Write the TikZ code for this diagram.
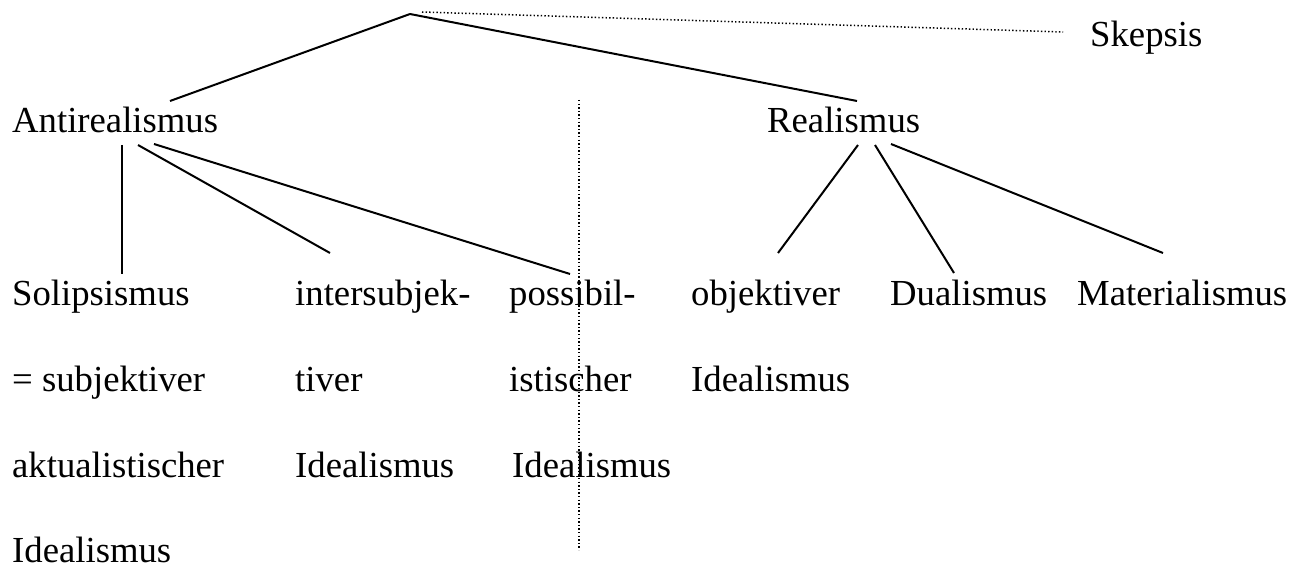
\documentclass[tikz,border=0pt]{standalone}
\usepackage{fontspec}
\setmainfont{Liberation Serif}
\usetikzlibrary{calc}
\begin{document}
\begin{tikzpicture}[x=1pt,y=-1pt,
  term/.style={anchor=base west,inner sep=0pt,font=\fontsize{36.7}{44}\selectfont},
  branch/.style={line width=2pt},
  guide/.style={line width=1.5pt,dash pattern=on 1.4pt off 2.2pt}]
\useasboundingbox (0,0) rectangle (1305,569);

% top level
\coordinate (apex) at (410,14);
\node[term] (skepsis) at (1090,47) {Skepsis};
\node[term] (anti) at (12,133) {Antirealismus};
\node[term] (real) at (767,133) {Realismus};

% antirealist positions
\node[term] (sol)   at (12,305) {Solipsismus};
\node[term] (sol2)  at (12,391) {= subjektiver};
\node[term] (sol3)  at (12,477) {aktualistischer};
\node[term] (sol4)  at (12,562) {Idealismus};
\node[term] (inter)  at (295,305) {intersubjek-};
\node[term] (inter2) at (295,391) {tiver};
\node[term] (inter3) at (295,477) {Idealismus};
\node[term] (poss)  at (509,305) {possibil-};
\node[term] (poss2) at (509,391) {istischer};
\node[term] (poss3) at (512,477) {Idealismus};

% realist positions
\node[term] (obj)  at (691,305) {objektiver};
\node[term] (obj2) at (691,391) {Idealismus};
\node[term] (dual) at (890,305) {Dualismus};
\node[term] (mat)  at (1077,305) {Materialismus};

% dividing line between the two camps
\coordinate (divide-top) at (579,100);
\coordinate (divide-bottom) at (579,550);
\draw[guide] (divide-top) -- (divide-bottom);

% branches from the root
\draw[branch] (apex) -- ($(anti.base west)+(158,-32)$);
\draw[branch] (apex) -- ($(real.base west)+(90,-32)$);
\draw[guide] ($(apex)+(12,-2)$) -- ($(skepsis.base west)+(-27,-15)$);

% antirealism branches
\draw[branch] ($(anti.base west)+(110,12)$) -- ($(sol.base west)+(110,-31)$);
\draw[branch] ($(anti.base west)+(126,12)$) -- ($(inter.base west)+(35,-52)$);
\draw[branch] ($(anti.base west)+(142,11)$) -- ($(poss.base west)+(61,-31)$);

% realism branches
\draw[branch] ($(real.base west)+(91,12)$) -- ($(obj.base west)+(87,-52)$);
\draw[branch] ($(real.base west)+(108,12)$) -- ($(dual.base west)+(64,-32)$);
\draw[branch] ($(real.base west)+(124,11)$) -- ($(mat.base west)+(86,-52)$);
\end{tikzpicture}
\end{document}
